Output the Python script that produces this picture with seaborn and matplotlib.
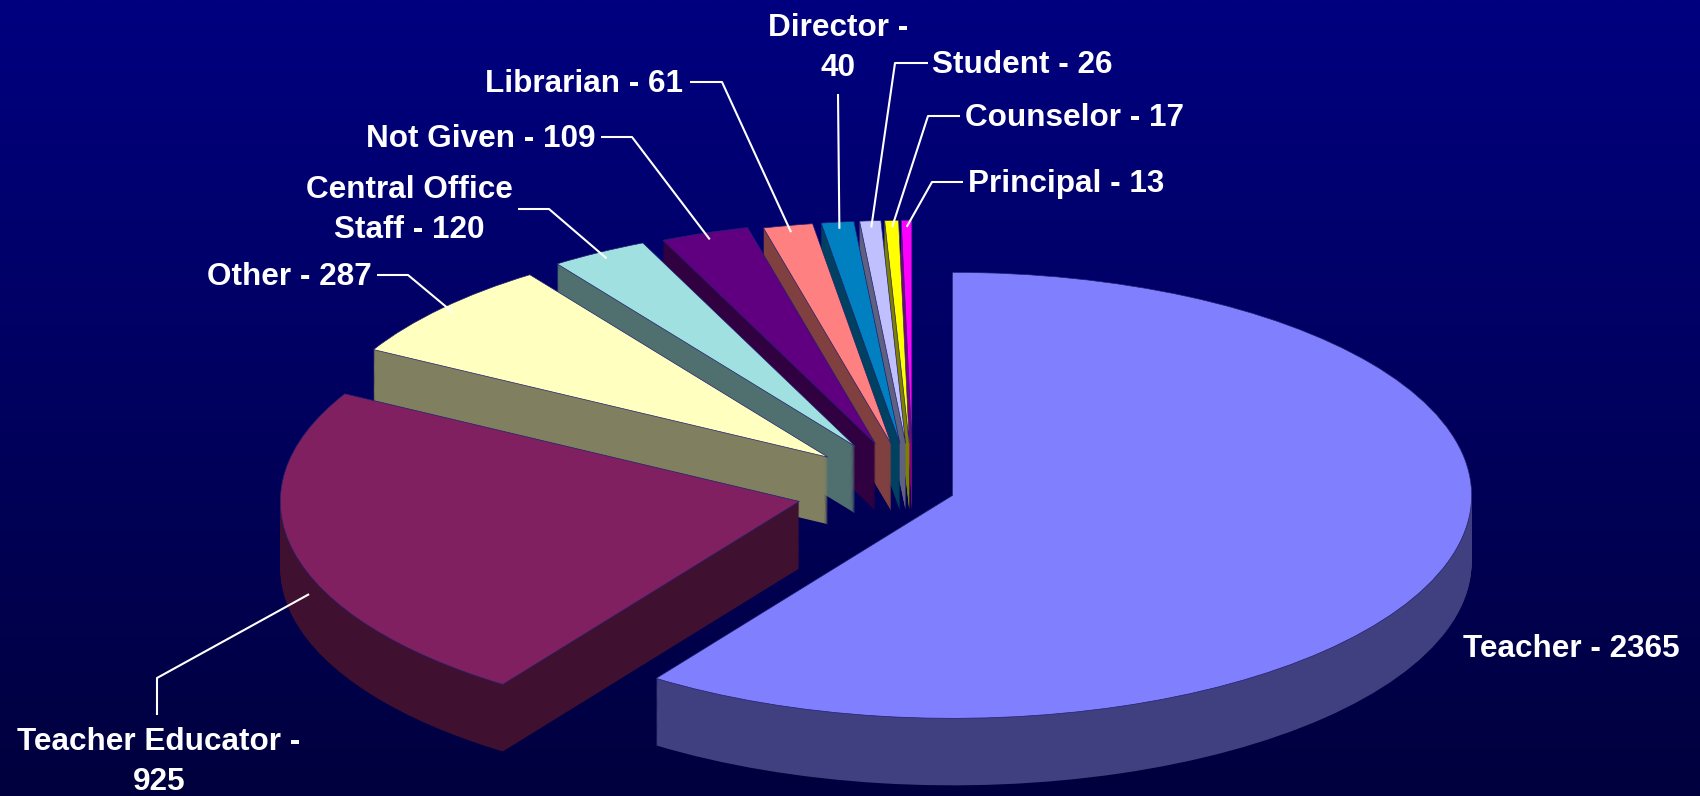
import numpy as np
import matplotlib
matplotlib.use("Agg")
import matplotlib.pyplot as plt
import seaborn as sns
from matplotlib.colors import to_rgb

# ---------------- data ----------------
categories = ["Teacher", "Teacher Educator", "Other", "Central Office Staff", "Not Given",
              "Librarian", "Director", "Student", "Counselor", "Principal"]
counts = [2365, 925, 287, 120, 109, 61, 40, 26, 17, 13]
label_texts = ["Teacher - 2365", "Teacher Educator -\n925", "Other - 287",
               "Central Office\nStaff - 120", "Not Given - 109", "Librarian - 61",
               "Director -\n40", "Student - 26", "Counselor - 17", "Principal - 13"]

# ---------------- style ----------------
top_colors = ["#8080FF", "#802060", "#FFFFC0", "#A0E0E0", "#600080",
              "#FF8080", "#0080C0", "#C0C0FF", "#FFFF00", "#FF00FF"]
explode = [0.08, 0.225, 0.22, 0.225, 0.22, 0.21, 0.21, 0.21, 0.21, 0.21]

W, H = 1700, 796
CX, CY = 913, 490      # pie centre (pixels from top-left)
RX, RY = 519, 223      # pixels per unit radius (horizontal / vertical)
DEPTH = 67             # pie thickness in pixels

# label layout: text anchor (px), horizontal alignment, leader points (px)
label_layout = [
    dict(xy=(1463, 647), ha="left", lead=None),
    dict(xy=(159, 760), ha="center", lead=[(157, 715), (157, 678)]),
    dict(xy=(372, 275), ha="right", lead=[(377, 275), (408, 275)]),
    dict(xy=(409, 208), ha="center", lead=[(518, 209), (549, 209)]),
    dict(xy=(595, 137), ha="right", lead=[(601, 137), (632, 137)]),
    dict(xy=(683, 82), ha="right", lead=[(690, 82), (722, 82)]),
    dict(xy=(838, 46), ha="center", lead=[(838, 94)]),
    dict(xy=(932, 63), ha="left", lead=[(928, 63), (895, 63)]),
    dict(xy=(965, 116), ha="left", lead=[(960, 116), (928, 116)]),
    dict(xy=(968, 182), ha="left", lead=[(963, 182), (932, 182)]),
]

sns.set_theme(style="white")
plt.rcParams['font.family'] = ['Liberation Sans', 'DejaVu Sans']

fig = plt.figure(figsize=(W / 100, H / 100), dpi=100)

# background gradient
bg = fig.add_axes([0, 0, 1, 1])
g = np.linspace(0, 1, 256)[:, None, None]
c_top = np.array([0, 0, 128]) / 255.0
c_bot = np.array([0, 0, 62]) / 255.0
img = c_top[None, None, :] * (1 - g) + c_bot[None, None, :] * g
img = np.repeat(img, 2, axis=1)
bg.imshow(img, aspect="auto", extent=[0, 1, 0, 1], interpolation="bilinear")
bg.set_axis_off()

ax = fig.add_axes([0, 0, 1, 1])
ax.patch.set_alpha(0)


def px2data(x, y):
    return ((x - CX) / RX, (CY - y) / RY)


side_colors = [tuple(0.5 * c for c in to_rgb(col)) for col in top_colors]
dz = DEPTH / RY
n_layers = 70
for k in range(n_layers, 0, -1):
    off = -dz * k / n_layers
    ax.pie(counts, colors=side_colors, explode=explode, startangle=90,
           counterclock=False, center=(0, off), radius=1,
           wedgeprops=dict(linewidth=0))

ax.pie(counts, colors=top_colors, explode=explode, startangle=90,
       counterclock=False, center=(0, 0), radius=1,
       wedgeprops=dict(linewidth=0.5, edgecolor="#202070"))

ax.set_xlim(-CX / RX, (W - CX) / RX)
ax.set_ylim(-(H - CY) / RY, CY / RY)
ax.set_aspect("auto")
ax.set_axis_off()

# anchors on the slices (from data geometry)
fr = np.array(counts, dtype=float) / np.sum(counts)
start = 90 - 360 * np.concatenate([[0], np.cumsum(fr)[:-1]])
mid = np.deg2rad(start - 180 * fr)

for i, (txt, lay) in enumerate(zip(label_texts, label_layout)):
    tx, ty = px2data(lay["xy"][0], lay["xy"][1] + 2)
    ax.text(tx, ty, txt, ha=lay["ha"], va="center", multialignment="center",
            color="white", fontsize=22.7, fontweight="bold", linespacing=1.47,
            zorder=10)
    if lay["lead"] is not None:
        r = explode[i] + 0.97
        axx, axy = r * np.cos(mid[i]), r * np.sin(mid[i])
        if i == 1:
            axy -= 0.65 * dz
        pts = [px2data(*p) for p in lay["lead"]] + [(axx, axy)]
        xs, ys = zip(*pts)
        ax.plot(xs, ys, color="white", lw=1.5, solid_capstyle="butt", zorder=9)

fig.savefig("out.png", dpi=100)
